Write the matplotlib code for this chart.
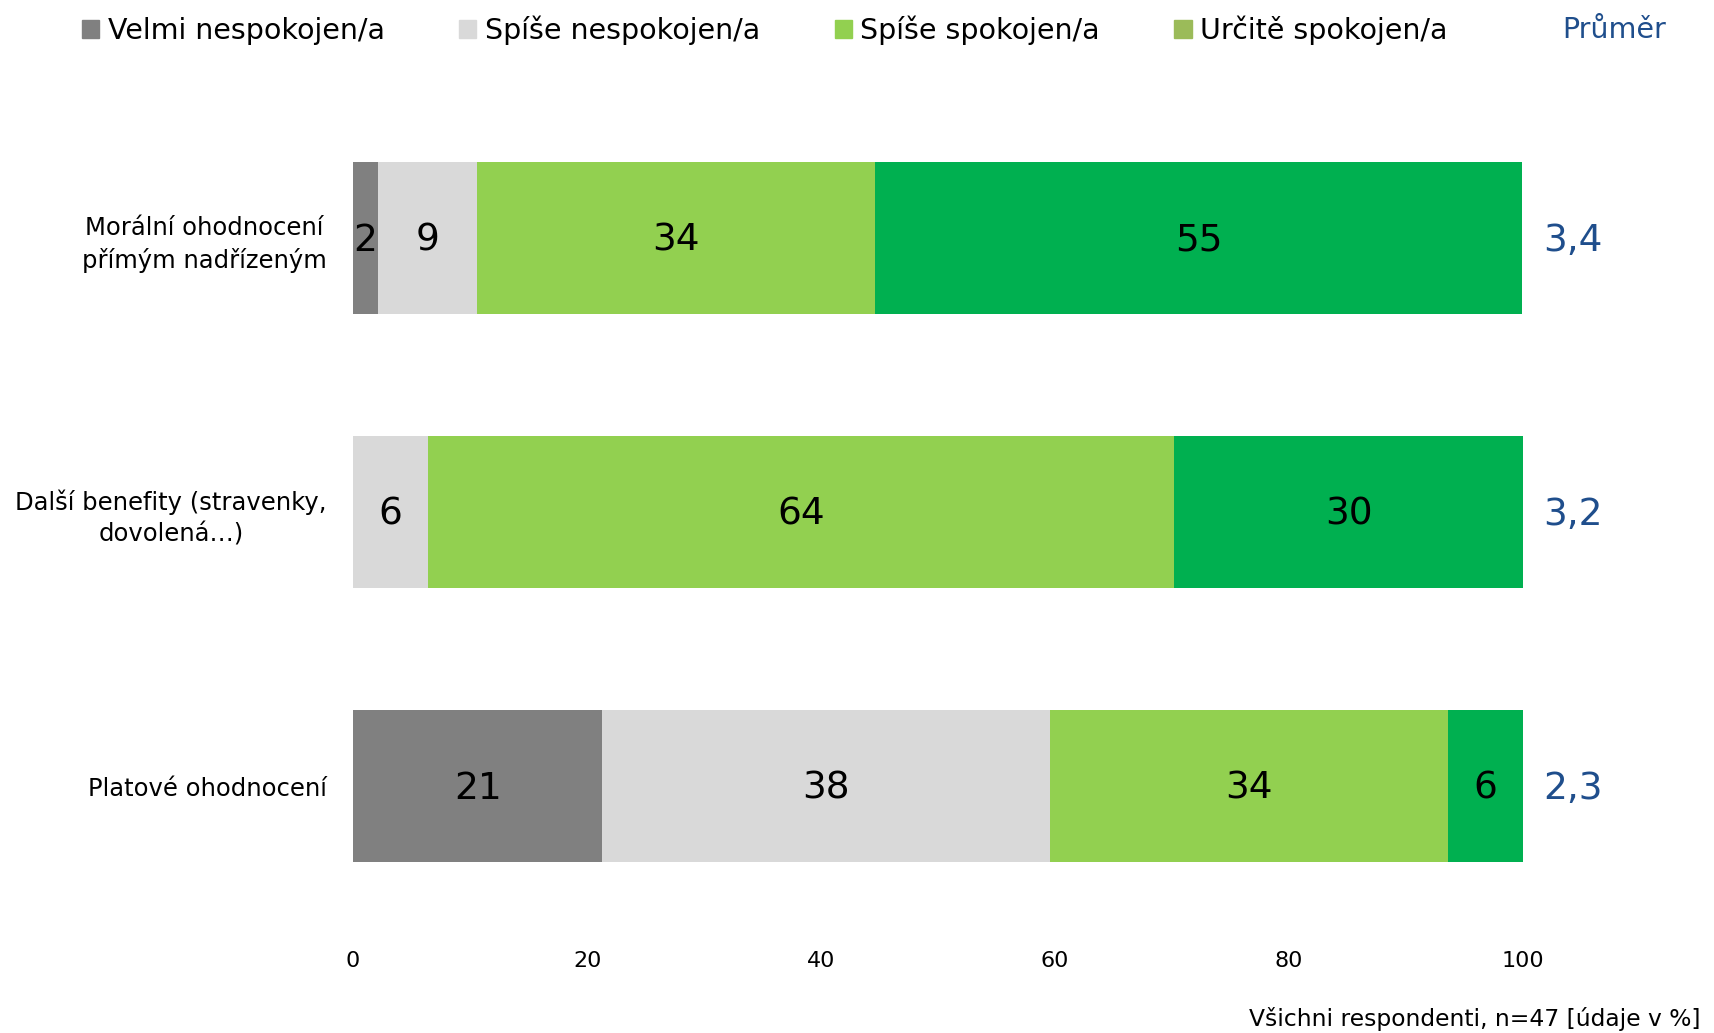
import matplotlib.pyplot as plt
from matplotlib.patches import Patch
import numpy as np

plt.rcParams['font.family'] = ['DejaVu Sans']

# data
categories = ['Morální ohodnocení\npřímým nadřízeným',
              'Další benefity (stravenky,\ndovolená…)',
              'Platové ohodnocení']
series_names = ['Velmi nespokojen/a', 'Spíše nespokojen/a',
                'Spíše spokojen/a', 'Určitě spokojen/a']
velmi_nesp = [2.1, 0.0, 21.3]
spise_nesp = [8.5, 6.4, 38.3]
spise_spok = [34.0, 63.8, 34.0]
urcite_spok = [55.3, 29.8, 6.4]
value_labels = [['2', '9', '34', '55'],
                ['', '6', '64', '30'],
                ['21', '38', '34', '6']]
prumer = ['3,4', '3,2', '2,3']
xticks = [0, 20, 40, 60, 80, 100]

bar_colors = ['#808080', '#d9d9d9', '#92d050', '#00b050']
legend_colors = ['#808080', '#d9d9d9', '#92d050', '#9bbb59']
blue = '#1f4e8c'

fig = plt.figure(figsize=(17.14, 10.33), dpi=100)
ax = fig.add_axes([0.206, 0.1065, 0.6826, 0.7955])

y = np.arange(len(categories))
left = np.zeros(len(categories))
for i, vals in enumerate([velmi_nesp, spise_nesp, spise_spok, urcite_spok]):
    vals = np.array(vals)
    ax.barh(y, vals, left=left, height=0.555, color=bar_colors[i])
    for j in range(len(categories)):
        if value_labels[j][i]:
            ax.text(left[j] + vals[j] / 2, y[j] + 0.01, value_labels[j][i],
                    ha='center', va='center', fontsize=27, color='black')
    left = left + vals

for j in range(len(categories)):
    ax.text(101.7, y[j] + 0.01, prumer[j], ha='left', va='center',
            fontsize=27, color=blue)

ax.set_xlim(0, 100)
ax.set_ylim(2.5, -0.5)
ax.set_yticks(y)
ax.set_yticklabels(categories, fontsize=17.5, multialignment='center',
                   linespacing=1.4)
ax.set_xticks(xticks)
ax.set_xticklabels([str(t) for t in xticks], fontsize=16)
ax.tick_params(axis='y', length=0, pad=19)
ax.tick_params(axis='x', length=0, pad=20)
for s in ax.spines.values():
    s.set_visible(False)

handles = [Patch(color=c) for c in legend_colors]
fig.legend(handles, series_names, loc='center left',
           bbox_to_anchor=(0.0478, 0.971), ncol=4, frameon=False,
           fontsize=20.5, handlelength=0.6, handleheight=0.6,
           handletextpad=0.3, columnspacing=2.62, borderpad=0,
           borderaxespad=0)
fig.text(0.9115, 0.971, 'Průměr', ha='left', va='center',
         fontsize=20.5, color=blue)

fig.text(0.992, 0.0136, 'Všichni respondenti, n=47 [údaje v %]',
         ha='right', va='center', fontsize=16.8)

plt.savefig('out.png', dpi=100)
